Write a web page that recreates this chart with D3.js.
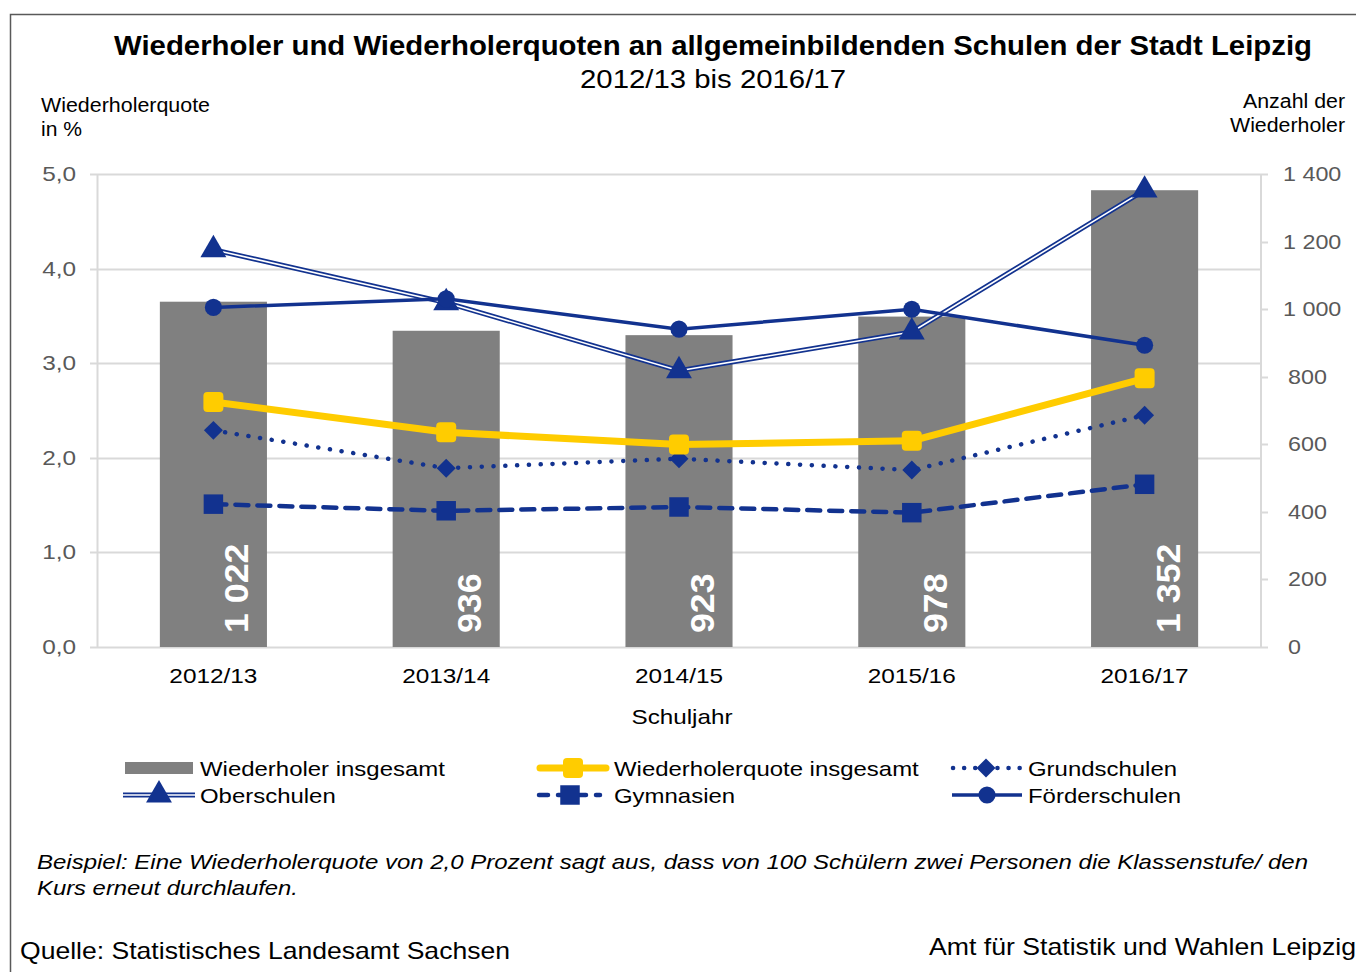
<!DOCTYPE html>
<html>
<head>
<meta charset="utf-8">
<script src="https://cdn.jsdelivr.net/npm/d3@7"></script>
<style>
  body { margin: 0; background: #fff; }
  svg { display: block; font-family: "Liberation Sans", Arial, sans-serif; }
</style>
</head>
<body>
<div id="chart"></div>
<script>
// Data
var years = ["2012/13", "2013/14", "2014/15", "2015/16", "2016/17"];
var wiederholer = [1022, 936, 923, 978, 1352];
var quoteGesamt = [2.59, 2.27, 2.14, 2.18, 2.84];
var grundschulen = [2.29, 1.89, 1.99, 1.87, 2.45];
var oberschulen = [4.2, 3.64, 2.92, 3.33, 4.83];
var gymnasien = [1.51, 1.44, 1.48, 1.42, 1.72];
var foerderschulen = [3.59, 3.68, 3.36, 3.57, 3.19];
var leftTicks = [0, 1, 2, 3, 4, 5];
var rightTicks = [0, 200, 400, 600, 800, 1000, 1200, 1400];

var BLUE = "#12328f";
var YELLOW = "#ffcc00";
var GREY = "#808080";
var GRID = "#d9d9d9";
var TICKTEXT = "#595959";

var width = 1356, height = 972;
var margins = { top: 174, right: 95, bottom: 325, left: 97 };
var chartWidth = width - margins.left - margins.right;
var chartHeight = height - margins.top - margins.bottom;

// The reference text runs a bit wider than the installed fonts: stretch it.
var stretch = function(sel, factor) {
  sel.each(function() {
    var w = this.getComputedTextLength();
    d3.select(this).attr("textLength", w * factor).attr("lengthAdjust", "spacingAndGlyphs");
  });
  return sel;
};
var fitTo = function(sel, target) {
  return sel.attr("textLength", target).attr("lengthAdjust", "spacingAndGlyphs");
};

var svg = d3.select("#chart")
  .append("svg")
  .attr("width", width)
  .attr("height", height);

// Frame
svg.append("path")
  .attr("d", "M10.5," + height + " L10.5,14.5 L1356,14.5")
  .attr("fill", "none")
  .attr("stroke", "#595959")
  .attr("stroke-width", 1.5);

// Titles
fitTo(svg.append("text")
  .attr("x", 713).attr("y", 55)
  .attr("text-anchor", "middle")
  .style("font-size", "28px").style("font-weight", "bold")
  .text("Wiederholer und Wiederholerquoten an allgemeinbildenden Schulen der Stadt Leipzig"), 1198);
fitTo(svg.append("text")
  .attr("x", 713).attr("y", 88)
  .attr("text-anchor", "middle")
  .style("font-size", "26px")
  .text("2012/13 bis 2016/17"), 266);

fitTo(svg.append("text").attr("x", 41).attr("y", 112).style("font-size", "20px").text("Wiederholerquote"), 169);
fitTo(svg.append("text").attr("x", 41).attr("y", 136).style("font-size", "20px").text("in %"), 41);
fitTo(svg.append("text").attr("x", 1345).attr("y", 108).attr("text-anchor", "end").style("font-size", "20px").text("Anzahl der"), 102);
fitTo(svg.append("text").attr("x", 1345).attr("y", 132).attr("text-anchor", "end").style("font-size", "20px").text("Wiederholer"), 115);

var chart = svg.append("g")
  .attr("transform", "translate(" + margins.left + "," + margins.top + ")");

// Scales
var xScale = d3.scaleBand().domain(years).range([0, chartWidth]).paddingInner(0.54).paddingOuter(0.27);
var yLeft = d3.scaleLinear().domain([0, 5]).range([chartHeight, 0]);
var yRight = d3.scaleLinear().domain([0, 1400]).range([chartHeight, 0]);
var cx = function(i) { return xScale(years[i]) + xScale.bandwidth() / 2; };

// Grid
chart.append("g")
  .selectAll("line")
  .data(leftTicks)
  .enter()
  .append("line")
  .attr("x1", -7).attr("x2", chartWidth)
  .attr("y1", d => Math.round(yLeft(d)) + 0.5)
  .attr("y2", d => Math.round(yLeft(d)) + 0.5)
  .attr("stroke", GRID).attr("stroke-width", 2);

// Axis lines
chart.append("line").attr("x1", 0.5).attr("x2", 0.5).attr("y1", 0).attr("y2", chartHeight)
  .attr("stroke", GRID).attr("stroke-width", 2);
chart.append("line").attr("x1", chartWidth).attr("x2", chartWidth).attr("y1", 0).attr("y2", chartHeight)
  .attr("stroke", GRID).attr("stroke-width", 2);

// Number formats (German style)
var deLocale = d3.formatLocale({ decimal: ",", thousands: " ", grouping: [3], currency: ["", "€"] });
var leftFormat = deLocale.format(".1f");
var rightFormat = deLocale.format(",d");

// Left axis labels
stretch(chart.append("g")
  .selectAll("text")
  .data(leftTicks)
  .enter()
  .append("text")
  .attr("x", -21)
  .attr("y", d => yLeft(d) + 7)
  .attr("text-anchor", "end")
  .attr("fill", TICKTEXT)
  .style("font-size", "21px")
  .text(d => leftFormat(d)), 1.16);

// Right axis ticks + labels
var rightAxis = chart.append("g");
rightAxis.selectAll("line")
  .data(rightTicks)
  .enter()
  .append("line")
  .attr("x1", chartWidth).attr("x2", chartWidth + 7)
  .attr("y1", d => Math.round(yRight(d)) + 0.5)
  .attr("y2", d => Math.round(yRight(d)) + 0.5)
  .attr("stroke", GRID).attr("stroke-width", 2);
stretch(rightAxis.selectAll("text")
  .data(rightTicks)
  .enter()
  .append("text")
  .attr("x", d => d >= 1000 ? chartWidth + 22 : chartWidth + 27)
  .attr("y", d => yRight(d) + 7)
  .attr("fill", TICKTEXT)
  .style("font-size", "21px")
  .text(d => rightFormat(d)), 1.11);

// Bars
chart.append("g")
  .selectAll("rect")
  .data(wiederholer)
  .enter()
  .append("rect")
  .attr("x", (d, i) => xScale(years[i]))
  .attr("width", xScale.bandwidth())
  .attr("y", d => yRight(d))
  .attr("height", d => chartHeight - yRight(d))
  .attr("fill", GREY);

// Bar values
stretch(chart.append("g")
  .selectAll("text")
  .data(wiederholer)
  .enter()
  .append("text")
  .attr("transform", (d, i) => "translate(" + (cx(i) + 35) + "," + (chartHeight - 14) + ") rotate(-90)")
  .attr("fill", "#fff")
  .style("font-size", "34px")
  .style("font-weight", "bold")
  .text(d => rightFormat(d)), 1.05);

// Lines
var line = d3.line().x((d, i) => cx(i)).y(d => yLeft(d));

// Gymnasien
chart.append("path").datum(gymnasien)
  .attr("d", line).attr("fill", "none")
  .attr("stroke", BLUE).attr("stroke-width", 4.5)
  .attr("stroke-dasharray", "13 9").attr("stroke-linecap", "round");

// Grundschulen
chart.append("path").datum(grundschulen)
  .attr("d", line).attr("fill", "none")
  .attr("stroke", BLUE).attr("stroke-width", 4.5)
  .attr("stroke-dasharray", "0.1 11.7").attr("stroke-linecap", "round");

// Wiederholerquote insgesamt
chart.append("path").datum(quoteGesamt)
  .attr("d", line).attr("fill", "none")
  .attr("stroke", YELLOW).attr("stroke-width", 7)
  .attr("stroke-linejoin", "round");

// Oberschulen (double line)
chart.append("path").datum(oberschulen)
  .attr("d", line).attr("fill", "none")
  .attr("stroke", BLUE).attr("stroke-width", 5);
chart.append("path").datum(oberschulen)
  .attr("d", line).attr("fill", "none")
  .attr("stroke", "#fff").attr("stroke-width", 1.6);

// Förderschulen
chart.append("path").datum(foerderschulen)
  .attr("d", line).attr("fill", "none")
  .attr("stroke", BLUE).attr("stroke-width", 3.5);

// Markers
var markerShape = {
  square: d3.symbol().type(d3.symbolSquare).size(380),
  diamond: d3.symbol().type(d3.symbolSquare).size(180),
  triangle: d3.symbol().type(d3.symbolTriangle).size(290),
  circle: d3.symbol().type(d3.symbolCircle).size(230)
};
var markerRotate = { diamond: 45 };

var drawMarkers = function(values, shape, fill, cls) {
  chart.append("g")
    .attr("class", cls)
    .selectAll("path")
    .data(values)
    .enter()
    .append("path")
    .attr("transform", (d, i) => "translate(" + cx(i) + "," + yLeft(d) + ") rotate(" + (markerRotate[shape] || 0) + ")")
    .attr("d", markerShape[shape])
    .attr("fill", fill);
};

drawMarkers(gymnasien, "square", BLUE, "m-gym");
drawMarkers(grundschulen, "diamond", BLUE, "m-grund");
chart.append("g")
  .selectAll("rect")
  .data(quoteGesamt)
  .enter()
  .append("rect")
  .attr("x", (d, i) => cx(i) - 10)
  .attr("y", d => yLeft(d) - 10)
  .attr("width", 20).attr("height", 20)
  .attr("rx", 4)
  .attr("fill", YELLOW);
drawMarkers(oberschulen, "triangle", BLUE, "m-ober");
drawMarkers(foerderschulen, "circle", BLUE, "m-foerder");

// X axis labels
stretch(chart.append("g")
  .selectAll("text")
  .data(years)
  .enter()
  .append("text")
  .attr("x", d => xScale(d) + xScale.bandwidth() / 2)
  .attr("y", chartHeight + 36)
  .attr("text-anchor", "middle")
  .style("font-size", "21px")
  .text(d => d), 1.16);

fitTo(svg.append("text")
  .attr("x", 682).attr("y", 724)
  .attr("text-anchor", "middle")
  .style("font-size", "21px")
  .text("Schuljahr"), 101);

// Legend
var legend = svg.append("g").style("font-size", "21px");
var legendText = function(x, y, label) {
  stretch(legend.append("text").attr("x", x).attr("y", y).text(label), 1.14);
};

// Wiederholer insgesamt
legend.append("rect").attr("x", 125).attr("y", 762).attr("width", 68).attr("height", 12).attr("fill", GREY);
legendText(200, 776, "Wiederholer insgesamt");

// Oberschulen
legend.append("line").attr("x1", 123).attr("x2", 195).attr("y1", 795).attr("y2", 795)
  .attr("stroke", BLUE).attr("stroke-width", 5);
legend.append("line").attr("x1", 123).attr("x2", 195).attr("y1", 795).attr("y2", 795)
  .attr("stroke", "#fff").attr("stroke-width", 1.6);
legend.append("path").attr("transform", "translate(159,795)").attr("d", markerShape.triangle).attr("fill", BLUE);
legendText(200, 803, "Oberschulen");

// Wiederholerquote insgesamt
legend.append("line").attr("x1", 540).attr("x2", 606).attr("y1", 768).attr("y2", 768)
  .attr("stroke", YELLOW).attr("stroke-width", 7).attr("stroke-linecap", "round");
legend.append("rect").attr("x", 563).attr("y", 758).attr("width", 20).attr("height", 20).attr("rx", 4).attr("fill", YELLOW);
legendText(614, 776, "Wiederholerquote insgesamt");

// Gymnasien
legend.append("line").attr("x1", 539).attr("x2", 600).attr("y1", 795).attr("y2", 795)
  .attr("stroke", BLUE).attr("stroke-width", 4.5)
  .attr("stroke-dasharray", "9 10").attr("stroke-linecap", "round");
legend.append("path").attr("transform", "translate(570,795)").attr("d", markerShape.square).attr("fill", BLUE);
legendText(614, 803, "Gymnasien");

// Grundschulen
legend.append("line").attr("x1", 953).attr("x2", 1020).attr("y1", 768).attr("y2", 768)
  .attr("stroke", BLUE).attr("stroke-width", 4.5)
  .attr("stroke-dasharray", "0.1 11").attr("stroke-linecap", "round");
legend.append("path").attr("transform", "translate(986,768) rotate(45)").attr("d", markerShape.diamond).attr("fill", BLUE);
legendText(1028, 776, "Grundschulen");

// Förderschulen
legend.append("line").attr("x1", 952).attr("x2", 1022).attr("y1", 795).attr("y2", 795)
  .attr("stroke", BLUE).attr("stroke-width", 3.5);
legend.append("path").attr("transform", "translate(987,795)").attr("d", markerShape.circle).attr("fill", BLUE);
legendText(1028, 803, "Förderschulen");

// Footnote
fitTo(svg.append("text").attr("x", 37).attr("y", 869)
  .style("font-size", "21px").style("font-style", "italic")
  .text("Beispiel: Eine Wiederholerquote von 2,0 Prozent sagt aus, dass von 100 Schülern zwei Personen die Klassenstufe/ den"), 1271);
fitTo(svg.append("text").attr("x", 37).attr("y", 895)
  .style("font-size", "21px").style("font-style", "italic")
  .text("Kurs erneut durchlaufen."), 261);

fitTo(svg.append("text").attr("x", 20).attr("y", 959)
  .style("font-size", "24px")
  .text("Quelle: Statistisches Landesamt Sachsen"), 490);
fitTo(svg.append("text").attr("x", 1356).attr("y", 955)
  .attr("text-anchor", "end")
  .style("font-size", "24px")
  .text("Amt für Statistik und Wahlen Leipzig"), 427);
</script>
</body>
</html>
